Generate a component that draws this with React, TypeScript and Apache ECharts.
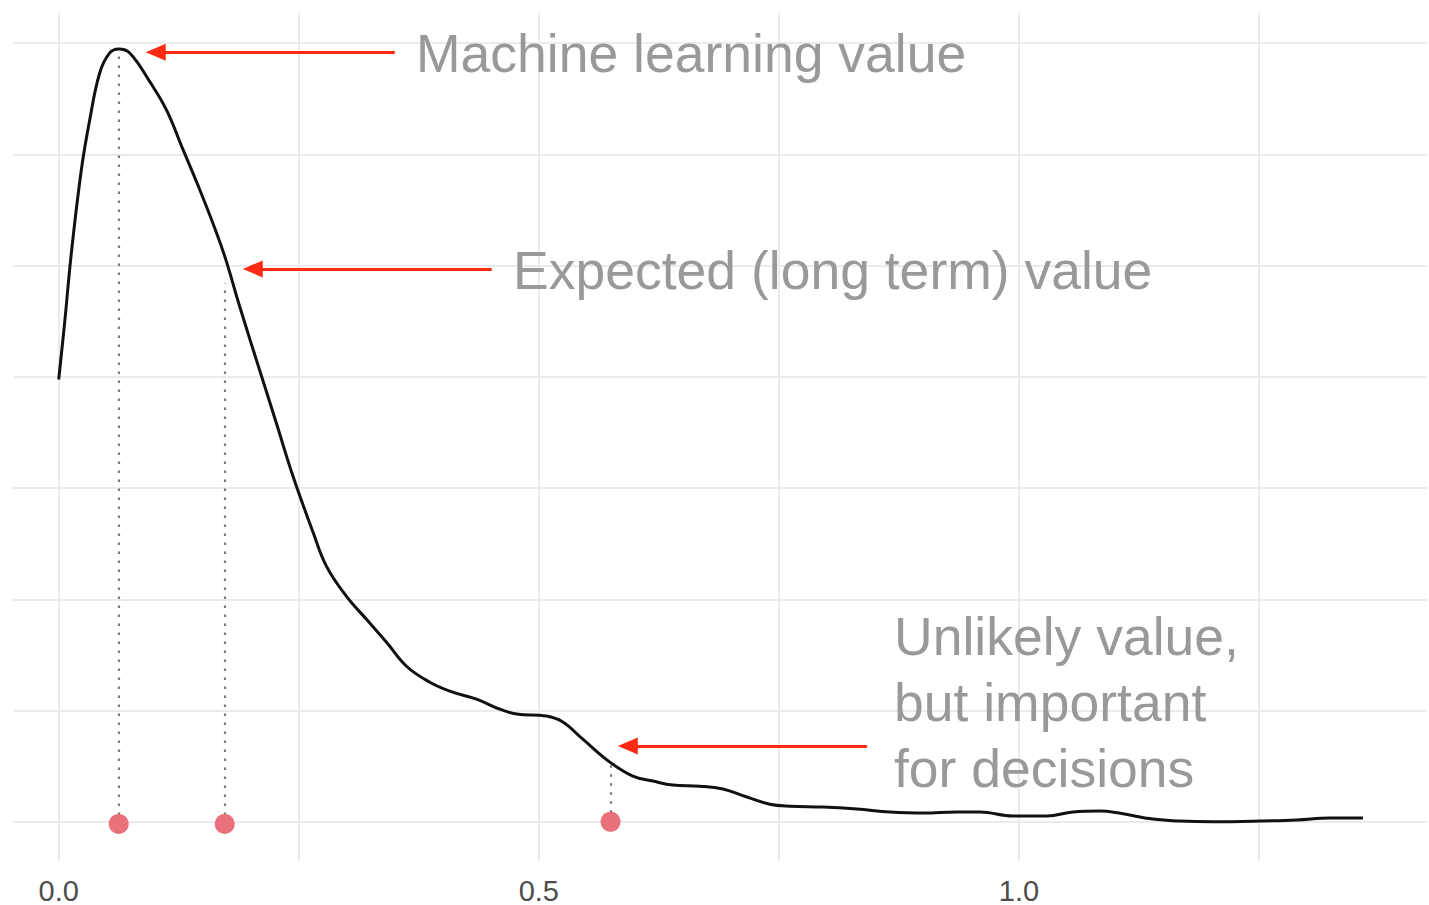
import React, { useEffect, useRef } from "react";
import * as echarts from "echarts";

// Density curve: [x, density]
const curveX = [
  0, 0.0063, 0.0132, 0.0236, 0.0323, 0.0427, 0.0531, 0.0625, 0.074, 0.0948,
  0.1122, 0.1295, 0.1469, 0.1643, 0.1747, 0.1885, 0.2094, 0.2268, 0.2441, 0.2649,
  0.2789, 0.2997, 0.3205, 0.3414, 0.3622, 0.3865, 0.4073, 0.4351, 0.4594, 0.4768,
  0.508, 0.525, 0.5458, 0.574, 0.5979, 0.6188, 0.6396, 0.6677, 0.6917, 0.7167,
  0.7406, 0.7615, 0.7958, 0.8313, 0.8656, 0.9, 0.9354, 0.9594, 0.9938, 1.0292,
  1.0563, 1.0844, 1.1042, 1.1396, 1.1677, 1.2021, 1.251, 1.2896, 1.324, 1.3583,
];
const curveY = [
  1.988, 2.248, 2.558, 2.931, 3.155, 3.366, 3.456, 3.474, 3.456, 3.327,
  3.2, 3.021, 2.841, 2.648, 2.518, 2.316, 2.028, 1.79, 1.552, 1.301,
  1.148, 1.013, 0.91, 0.807, 0.699, 0.627, 0.587, 0.551, 0.506, 0.484,
  0.475, 0.448, 0.371, 0.268, 0.205, 0.183, 0.165, 0.16, 0.147, 0.111,
  0.079, 0.07, 0.066, 0.057, 0.044, 0.039, 0.044, 0.044, 0.026, 0.026,
  0.044, 0.048, 0.039, 0.012, 0.003, 0.0, 0.003, 0.008, 0.017, 0.017,
];

// Highlighted values (points on the baseline) and the heights their dotted guides reach
const pointX = [0.0625, 0.1729, 0.5747];
const pointY = [-0.01, -0.01, 0.0];
const guideTop = [3.45, 2.42, 0.268];

// Annotation arrows: [tail x, tip x, y]
const arrowTail = [0.35, 0.451, 0.8417];
const arrowTip = [0.101, 0.2021, 0.5927];
const arrowY = [3.459, 2.485, 0.34];

const labelTexts = [
  "Machine learning value",
  "Expected (long term) value",
  "Unlikely value,\nbut important\nfor decisions",
];

// Axis breaks
const xMajor = [0, 0.5, 1.0];
const xMinor = [0.25, 0.75, 1.25];
const yBreaks = [0, 0.5, 1, 1.5, 2, 2.5, 3, 3.5];

const FONT = "'Liberation Sans', Arial, Helvetica, sans-serif";

export default function App() {
  const ref = useRef<HTMLDivElement>(null);

  useEffect(() => {
    if (!ref.current) return;
    const chart = echarts.init(ref.current, undefined, { renderer: "svg" });

    const curve = curveX.map((x, i) => [x, curveY[i]]);
    const dots = pointX.map((x, i) => [x, pointY[i]]);

    const gridLines = [
      ...yBreaks.map((v) => ({ yAxis: v })),
      ...xMajor.map((v) => ({ xAxis: v })),
      ...xMinor.map((v) => ({ xAxis: v })),
    ];

    const guides = pointX.map((x, i) => [
      { coord: [x, pointY[i]] },
      { coord: [x, guideTop[i]] },
    ]);

    const arrows = arrowTail.map((t, i) => [
      { coord: [t, arrowY[i]] },
      { coord: [arrowTip[i], arrowY[i]] },
    ]);

    const textStyle = {
      fontSize: 53.5,
      fontFamily: FONT,
      fill: "#999999",
      align: "left",
      verticalAlign: "middle",
    };

    chart.setOption({
      animation: false,
      backgroundColor: "#ffffff",
      grid: { left: 13, right: 2, top: 12, bottom: 43, containLabel: false },
      xAxis: {
        type: "value",
        min: -0.0476,
        max: 1.425,
        axisLine: { show: false },
        axisTick: { show: false },
        splitLine: { show: false },
        axisLabel: {
          customValues: xMajor,
          formatter: (v: number) => v.toFixed(1),
          fontSize: 29,
          fontFamily: FONT,
          color: "#4d4d4d",
          margin: 15,
        },
      },
      yAxis: {
        type: "value",
        min: -0.1765,
        max: 3.64,
        axisLine: { show: false },
        axisTick: { show: false },
        axisLabel: { show: false },
        splitLine: { show: false },
      },
      series: [
        {
          name: "grid",
          type: "line",
          data: [],
          z: 0,
          silent: true,
          markLine: {
            z: 0,
            silent: true,
            symbol: "none",
            label: { show: false },
            lineStyle: { color: "#ebebeb", width: 2, type: "solid" },
            data: gridLines,
          },
        },
        {
          name: "guides",
          type: "line",
          data: [],
          z: 1,
          silent: true,
          markLine: {
            z: 1,
            silent: true,
            symbol: "none",
            label: { show: false },
            lineStyle: { color: "#777777", width: 2.2, type: [2.5, 6.5] },
            data: guides,
          },
        },
        {
          name: "density",
          type: "line",
          data: curve,
          showSymbol: false,
          smooth: 0.4,
          z: 3,
          lineStyle: { color: "#111111", width: 3 },
        },
        {
          name: "arrows",
          type: "line",
          data: [],
          z: 4,
          silent: true,
          markLine: {
            z: 4,
            silent: true,
            symbol: ["none", "triangle"],
            symbolSize: [17, 20],
            label: { show: false },
            lineStyle: { color: "#ff2a12", width: 3, type: "solid" },
            itemStyle: { color: "#ff2a12" },
            data: arrows,
          },
        },
        {
          name: "points",
          type: "scatter",
          data: dots,
          symbolSize: 20,
          z: 5,
          itemStyle: { color: "#e8717b", opacity: 1 },
        },
      ],
      graphic: [
        { type: "text", z: 100, x: 416, y: 53, style: { ...textStyle, text: labelTexts[0] } },
        { type: "text", z: 100, x: 513, y: 270, style: { ...textStyle, text: labelTexts[1] } },
        {
          type: "text",
          z: 100,
          x: 894,
          y: 702,
          style: { ...textStyle, text: labelTexts[2], lineHeight: 66 },
        },
      ],
    });

    return () => chart.dispose();
  }, []);

  return (
    <div
      ref={ref}
      style={{ position: "absolute", left: 0, top: 0, width: 1429, height: 905 }}
    />
  );
}
